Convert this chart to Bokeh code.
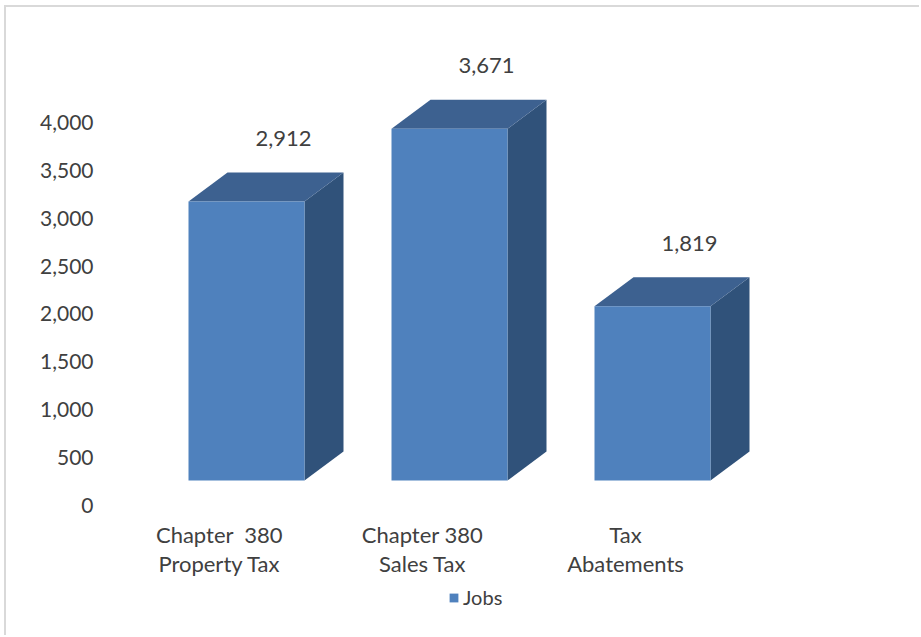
from bokeh.plotting import figure
from bokeh.models import Range1d, LinearAxis, FixedTicker, NumeralTickFormatter, Legend, LegendItem
from bokeh.core.properties import value
from bokeh.embed import file_html
from bokeh.resources import INLINE

# ---- data ----
categories = ["Chapter  380\nProperty Tax", "Chapter 380\nSales Tax", "Tax\nAbatements"]
jobs = [2912, 3671, 1819]
value_labels = ["2,912", "3,671", "1,819"]
y_ticks = [0, 500, 1000, 1500, 2000, 2500, 3000, 3500, 4000]
series_name = "Jobs"

# ---- style ----
FONT = "Lato"
TXT = "#404040"
C_FRONT = "#4F81BD"
C_TOP = "#3D6190"
C_SIDE = "#30527A"

W, H = 915, 630
LEFT = 95
FRAME_W = W - LEFT
PX_PER_CAT = 203.0
PX_PER_UNIT = 0.0958
x0 = -145.0 / PX_PER_CAT
x_range = Range1d(x0, x0 + FRAME_W / PX_PER_CAT)
ZERO_PX = 473  # front-face zero, pixels from figure top
y_lo = -(H - ZERO_PX) / PX_PER_UNIT
y_range = Range1d(y_lo, y_lo + H / PX_PER_UNIT)

p = figure(width=W, height=H, x_range=x_range, y_range=y_range,
           output_backend="svg", toolbar_location=None,
           min_border_left=LEFT, min_border_right=0, min_border_top=0, min_border_bottom=0,
           outline_line_color=None)
p.xaxis.visible = False
p.yaxis.visible = False
p.xgrid.visible = False
p.ygrid.visible = False
p.styles = {"border-left": "2px solid #d9d9d9", "border-top": "2px solid #d9d9d9",
            "margin-left": "4px", "margin-top": "5px"}

# axis with its own (offset) range, as in the 3-D original
axis_shift = 25 / PX_PER_UNIT
p.extra_y_ranges = {"axis": Range1d(y_range.start + axis_shift, y_range.end + axis_shift)}
ax = LinearAxis(y_range_name="axis", ticker=FixedTicker(ticks=y_ticks),
                formatter=NumeralTickFormatter(format="0,0"))
ax.axis_line_color = None
ax.major_tick_line_color = None
ax.minor_tick_line_color = None
ax.major_label_text_font = FONT
ax.major_label_text_font_size = "21px"
ax.major_label_text_color = TXT
ax.major_label_standoff = 2
p.add_layout(ax, "left")

# 3-D bar geometry
half = (116 / 2) / PX_PER_CAT
dx = 39 / PX_PER_CAT
dy = 29 / PX_PER_UNIT
xs_idx = list(range(len(categories)))

side_xs, side_ys, top_xs, top_ys = [], [], [], []
for i, v in zip(xs_idx, jobs):
    r, l = i + half, i - half
    side_xs.append([r, r + dx, r + dx, r])
    side_ys.append([0, dy, v + dy, v])
    top_xs.append([l, l + dx, r + dx, r])
    top_ys.append([v, v + dy, v + dy, v])

p.patches(side_xs, side_ys, fill_color=C_SIDE, line_color=None)
p.patches(top_xs, top_ys, fill_color=C_TOP, line_color=None)
front = p.quad(left=[i - half for i in xs_idx], right=[i + half for i in xs_idx],
               bottom=[0] * len(jobs), top=jobs, fill_color=C_FRONT, line_color=None)

# value labels
p.text(x=xs_idx, y=jobs, text=value_labels, x_offset=37, y_offset=-63,
       text_align="center", text_baseline="middle", text_font=value(FONT),
       text_font_size="22px", text_color=TXT)

# category labels (two lines); keep double spaces visible in SVG
line1 = [c.split("\n")[0].replace("  ", " \u00a0") for c in categories]
line2 = [c.split("\n")[1] for c in categories]
zeros = [0] * len(categories)
for txt, off in ((line1, 54), (line2, 83)):
    p.text(x=xs_idx, y=zeros, text=txt, x_offset=-27, y_offset=off,
           text_align="center", text_baseline="middle", text_font=value(FONT),
           text_font_size="22px", text_color=TXT)

legend = Legend(items=[LegendItem(label=series_name, renderers=[front])],
                location=(347, 28), orientation="horizontal",
                background_fill_alpha=0, border_line_color=None,
                padding=0, margin=0, spacing=0,
                glyph_width=11, glyph_height=11, label_standoff=4,
                label_text_font=FONT, label_text_font_size="20px", label_text_color=TXT)
p.add_layout(legend, "center")

open("out.html", "w").write(file_html(p, INLINE))
